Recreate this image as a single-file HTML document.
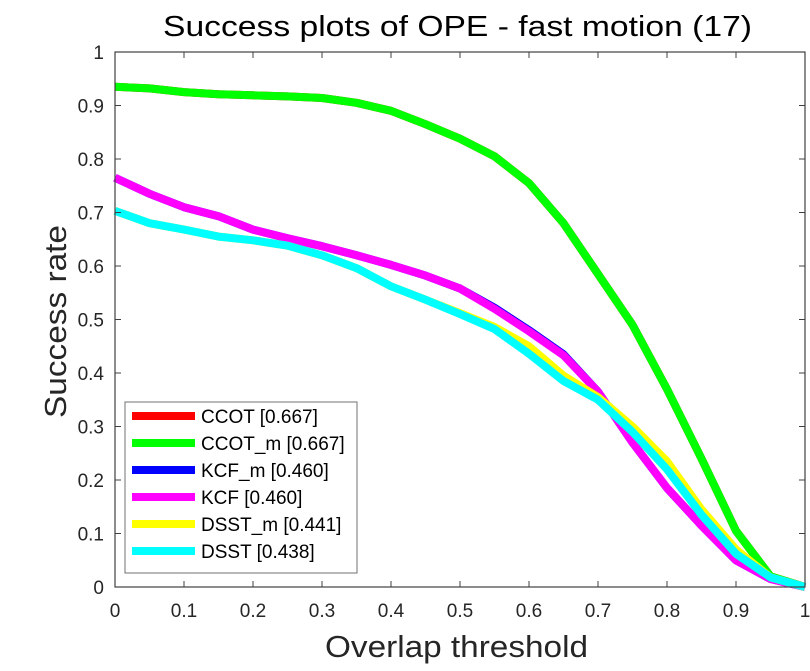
<!DOCTYPE html>
<html><head><meta charset="utf-8"><style>
body{margin:0;background:#fff;}
svg text{font-family:"Liberation Sans",Arial,sans-serif;}
</style></head><body>
<svg id="chart" width="810" height="666" xmlns="http://www.w3.org/2000/svg">
<rect width="810" height="666" fill="#fff"/>
<g id="plot"></g>
</svg>
<script>
const xTicks=[0,0.1,0.2,0.3,0.4,0.5,0.6,0.7,0.8,0.9,1];
const yTicks=[0,0.1,0.2,0.3,0.4,0.5,0.6,0.7,0.8,0.9,1];
const thresholds=[0,0.05,0.1,0.15,0.2,0.25,0.3,0.35,0.4,0.45,0.5,0.55,0.6,0.65,0.7,0.75,0.8,0.85,0.9,0.95,1];
const seriesNames=["CCOT [0.667]","CCOT_m [0.667]","KCF_m [0.460]","KCF [0.460]","DSST_m [0.441]","DSST [0.438]"];
const seriesColors=["#ff0000","#00ff00","#0000ff","#ff00ff","#ffff00","#00ffff"];
const ccot=[0.935,0.932,0.925,0.921,0.919,0.917,0.914,0.905,0.89,0.865,0.838,0.805,0.755,0.68,0.585,0.49,0.37,0.24,0.105,0.02,0.0];
const ccotM=[0.935,0.932,0.925,0.921,0.919,0.917,0.914,0.905,0.89,0.865,0.838,0.805,0.755,0.68,0.585,0.49,0.37,0.24,0.105,0.02,0.0];
const kcfM=[0.765,0.735,0.71,0.693,0.668,0.652,0.637,0.62,0.602,0.582,0.558,0.522,0.48,0.435,0.365,0.27,0.185,0.115,0.05,0.015,0.0];
const kcf=[0.765,0.735,0.71,0.693,0.668,0.652,0.637,0.62,0.602,0.582,0.558,0.52,0.478,0.433,0.365,0.27,0.185,0.115,0.05,0.015,0.0];
const dsstM=[0.703,0.68,0.668,0.655,0.648,0.638,0.62,0.596,0.562,0.537,0.512,0.486,0.45,0.395,0.355,0.3,0.235,0.145,0.07,0.018,0.0];
const dsst=[0.703,0.68,0.668,0.655,0.648,0.638,0.62,0.596,0.562,0.537,0.51,0.482,0.436,0.385,0.35,0.29,0.22,0.135,0.062,0.018,0.0];
const allSeries=[ccot,ccotM,kcfM,kcf,dsstM,dsst];
const L=115,R=805,T=52,B=587;
const sx=v=>L+(R-L)*v, sy=v=>B-(B-T)*v;
const NS="http://www.w3.org/2000/svg";
const g=document.getElementById('plot');
function mk(tag,attrs,parent){const e=document.createElementNS(NS,tag);for(const k in attrs)e.setAttribute(k,attrs[k]);(parent||g).appendChild(e);return e;}
let t=mk('text',{x:163,y:36,'font-size':29,fill:'#000',textLength:589,lengthAdjust:'spacingAndGlyphs'});t.textContent='Success plots of OPE - fast motion (17)';


allSeries.forEach((s,i)=>{
 const d=thresholds.map((x,j)=>(j?'L':'M')+sx(x).toFixed(1)+','+sy(s[j]).toFixed(1)).join(' ');
 const p=mk('path',{d:d,fill:'none',stroke:seriesColors[i],'stroke-width':8,'stroke-linejoin':'round'});
 
 
});
const box=mk('rect',{x:L,y:T,width:R-L,height:B-T,fill:'none',stroke:'#404040','stroke-width':1.2});


xTicks.forEach(v=>{
 mk('line',{x1:sx(v),x2:sx(v),y1:B,y2:B-6,stroke:'#404040'});
 mk('line',{x1:sx(v),x2:sx(v),y1:T,y2:T+6,stroke:'#404040'});
 const tx=mk('text',{x:sx(v),y:B+30,'text-anchor':'middle','font-size':19,fill:'#262626'});tx.textContent=String(v);
 
 
});
yTicks.forEach(v=>{
 mk('line',{x1:L,x2:L+6,y1:sy(v),y2:sy(v),stroke:'#404040'});
 mk('line',{x1:R,x2:R-6,y1:sy(v),y2:sy(v),stroke:'#404040'});
 const ty=mk('text',{x:L-11,y:sy(v)+7,'text-anchor':'end','font-size':19,fill:'#262626'});ty.textContent=String(v);
 
 
});
let xl=mk('text',{x:325,y:657,'font-size':31,fill:'#262626',textLength:263,lengthAdjust:'spacingAndGlyphs'});xl.textContent='Overlap threshold';


let yl=mk('text',{x:0,y:0,transform:'translate(66,418) rotate(-90)','font-size':31,fill:'#262626',textLength:193,lengthAdjust:'spacingAndGlyphs'});yl.textContent='Success rate';


const lg=mk('g',{});


mk('rect',{x:125,y:402,width:232,height:171,fill:'#fff',stroke:'#707070','stroke-width':1},lg);
seriesNames.forEach((n,i)=>{
 const y=416+i*27;
 const e=mk('g',{},lg);
 
 
 mk('line',{x1:132,x2:195,y1:y,y2:y,stroke:seriesColors[i],'stroke-width':8},e);
 const tt=mk('text',{x:201,y:y+7,'font-size':19,fill:'#000'},e);tt.textContent=n;
});
</script>
</body></html>
